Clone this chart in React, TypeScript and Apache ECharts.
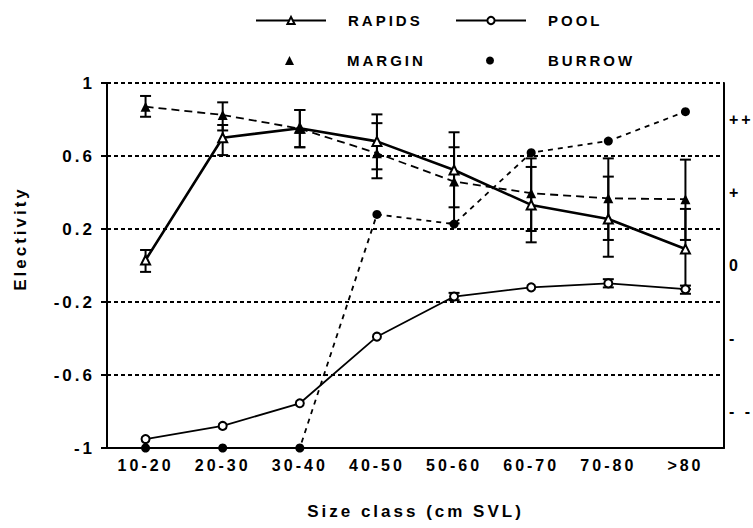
import React, { useEffect, useRef } from "react";
import * as echarts from "echarts";

const categories = ["10-20", "20-30", "30-40", "40-50", "50-60", "60-70", "70-80", ">80"];

const rapids = [0.03, 0.7, 0.752, 0.68, 0.523, 0.332, 0.255, 0.09];
const rapidsLow = [-0.035, 0.605, 0.648, 0.527, 0.319, 0.127, 0.048, -0.13];
const rapidsHigh = [0.085, 0.77, 0.852, 0.828, 0.73, 0.54, 0.487, 0.31];

const pool = [-0.951, -0.879, -0.755, -0.39, -0.17, -0.12, -0.098, -0.13];
const poolLow = [null, null, null, null, -0.19, null, -0.12, -0.155];
const poolHigh = [null, null, null, null, -0.15, null, -0.075, -0.11];

const margin = [0.87, 0.825, 0.75, 0.615, 0.46, 0.396, 0.368, 0.363];
const marginLow = [0.815, 0.74, 0.648, 0.478, 0.231, 0.189, 0.14, 0.14];
const marginHigh = [0.929, 0.894, 0.852, 0.78, 0.648, 0.587, 0.587, 0.58];

const burrow = [-1, -1, -1, 0.28, 0.227, 0.618, 0.682, 0.843];

const yMin = -1;
const yMax = 1;
const yInterval = 0.4;

const rightLabelValues = [0.8, 0.4, 0, -0.4, -0.8];
const rightLabels = ["++", "+", "0", "-", "- -"];

const FONT = "'Liberation Sans', Arial, sans-serif";

function errData(low: (number | null)[], high: (number | null)[]) {
  const out: number[][] = [];
  categories.forEach((_, i) => {
    if (low[i] != null && high[i] != null) out.push([i, low[i] as number, high[i] as number]);
  });
  return out;
}

function errRender(params: any, api: any) {
  const i = api.value(0);
  const lo = api.coord([i, api.value(1)]);
  const hi = api.coord([i, api.value(2)]);
  const w = 5.5;
  const st = { stroke: "#000", lineWidth: 2 };
  return {
    type: "group",
    children: [
      { type: "line", shape: { x1: lo[0], y1: lo[1], x2: hi[0], y2: hi[1] }, style: st },
      { type: "line", shape: { x1: lo[0] - w, y1: lo[1], x2: lo[0] + w, y2: lo[1] }, style: st },
      { type: "line", shape: { x1: hi[0] - w, y1: hi[1], x2: hi[0] + w, y2: hi[1] }, style: st },
    ],
  };
}

const legendText = (pad: number) => ({
  fontFamily: FONT,
  fontWeight: "bold" as const,
  fontSize: 15,
  color: "#000",
  padding: [0, 0, 0, pad],
});

export default function App() {
  const ref = useRef<HTMLDivElement>(null);
  useEffect(() => {
    if (!ref.current) return;
    const chart = echarts.init(ref.current, undefined, { renderer: "svg" });
    const option: any = {
      animation: false,
      backgroundColor: "#fff",
      textStyle: { fontFamily: FONT, fontWeight: "bold", color: "#000" },
      grid: { left: 107, right: 29, top: 83, bottom: 80 },
      legend: [
        {
          data: ["RAPIDS"],
          left: 255,
          top: 13,
          padding: 0,
          itemWidth: 70,
          itemHeight: 9,
          textStyle: legendText(17),
        },
        {
          data: ["POOL"],
          left: 455,
          top: 13,
          padding: 0,
          itemWidth: 70,
          itemHeight: 9,
          textStyle: legendText(17),
        },
        {
          data: [{ name: "MARGIN", icon: "triangle" }],
          left: 285,
          top: 53,
          padding: 0,
          itemWidth: 9,
          itemHeight: 9,
          textStyle: legendText(48),
        },
        {
          data: [{ name: "BURROW", icon: "circle" }],
          left: 486,
          top: 53,
          padding: 0,
          itemWidth: 8,
          itemHeight: 8,
          textStyle: legendText(49),
        },
      ],
      xAxis: {
        type: "category",
        data: categories,
        boundaryGap: true,
        name: "Size class (cm SVL)",
        nameLocation: "middle",
        nameGap: 55,
        nameTextStyle: { fontFamily: FONT, fontWeight: "bold", fontSize: 17, color: "#000" },
        axisLine: { onZero: false, lineStyle: { color: "#000", width: 2 } },
        axisTick: { alignWithLabel: true, length: 6, lineStyle: { color: "#000", width: 2 } },
        axisLabel: { margin: 9, fontFamily: FONT, fontWeight: "bold", fontSize: 16, color: "#000" },
        splitLine: { show: false },
      },
      yAxis: [
        {
          type: "value",
          min: yMin,
          max: yMax,
          interval: yInterval,
          name: "Electivity",
          nameLocation: "middle",
          nameGap: 78,
          nameTextStyle: {
            fontFamily: FONT,
            fontWeight: "bold",
            fontSize: 17,
            color: "#000",
            padding: [0, 0, 0, 54],
          },
          axisLine: { show: true, onZero: false, lineStyle: { color: "#000", width: 2 } },
          axisTick: { show: true, length: 6, lineStyle: { color: "#000", width: 2 } },
          axisLabel: {
            margin: 12,
            fontFamily: FONT,
            fontWeight: "bold",
            fontSize: 17,
            color: "#000",
            formatter: (v: number) => String(Math.round(v * 10) / 10),
          },
          splitLine: { show: true, lineStyle: { color: "#000", width: 2, type: [4, 3] } },
        },
        {
          type: "value",
          position: "right",
          min: yMin,
          max: yMax,
          axisLine: { show: true, onZero: false, lineStyle: { color: "#000", width: 2 } },
          axisTick: { show: false },
          axisLabel: {
            show: true,
            customValues: rightLabelValues,
            margin: 5,
            fontFamily: FONT,
            fontWeight: "bold",
            fontSize: 16,
            color: "#000",
            formatter: (v: number) => {
              let best = 0;
              rightLabelValues.forEach((r, k) => {
                if (Math.abs(r - v) < Math.abs(rightLabelValues[best] - v)) best = k;
              });
              return rightLabels[best];
            },
          },
          splitLine: { show: false },
        },
      ],
      series: [
        {
          name: "POOL err",
          type: "custom",
          renderItem: errRender,
          data: errData(poolLow, poolHigh),
          encode: { x: 0, y: [1, 2] },
          z: 2,
        },
        {
          name: "RAPIDS err",
          type: "custom",
          renderItem: errRender,
          data: errData(rapidsLow, rapidsHigh),
          encode: { x: 0, y: [1, 2] },
          z: 2,
        },
        {
          name: "MARGIN err",
          type: "custom",
          renderItem: errRender,
          data: errData(marginLow, marginHigh),
          encode: { x: 0, y: [1, 2] },
          z: 2,
        },
        {
          name: "POOL",
          type: "line",
          data: pool,
          symbol: "emptyCircle",
          symbolSize: 8,
          itemStyle: { color: "#000", borderWidth: 1.6 },
          lineStyle: { color: "#000", width: 1.8 },
          z: 3,
        },
        {
          name: "RAPIDS",
          type: "line",
          data: rapids,
          symbol: "emptyTriangle",
          symbolSize: 9,
          itemStyle: { color: "#000", borderWidth: 1.6 },
          lineStyle: { color: "#000", width: 2.6 },
          z: 4,
        },
        {
          name: "MARGIN",
          type: "line",
          data: margin,
          symbol: "triangle",
          symbolSize: 10,
          itemStyle: { color: "#000" },
          lineStyle: { color: "#000", width: 1.8, type: [8, 5] },
          z: 4,
        },
        {
          name: "BURROW",
          type: "line",
          data: burrow,
          symbol: "circle",
          symbolSize: 9,
          itemStyle: { color: "#000" },
          lineStyle: { color: "#000", width: 1.8, type: [5, 5] },
          z: 4,
        },
      ],
    };
    chart.setOption(option);
    return () => chart.dispose();
  }, []);
  return (
    <div
      ref={ref}
      style={{
        position: "fixed",
        left: 0,
        top: 0,
        width: 753,
        height: 528,
        letterSpacing: "3px",
      }}
    />
  );
}
